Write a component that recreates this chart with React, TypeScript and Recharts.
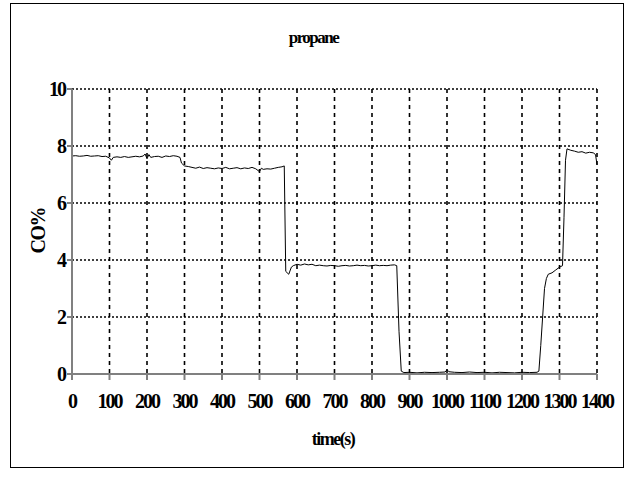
import { LineChart, Line, XAxis, YAxis, CartesianGrid } from 'recharts';

// sampled CO% readings for the propane run
const timeSec = [
  0, 10, 20, 30, 40, 50, 60, 70, 80, 90, 100, 105, 110, 120, 130, 140, 150, 160, 170, 180,
  190, 195, 200, 205, 210, 220, 230, 240, 250, 260, 270, 280, 288, 292, 300, 310, 320, 330, 340, 350,
  360, 370, 380, 390, 400, 410, 420, 430, 440, 450, 460, 470, 480, 490, 500, 505, 510, 520, 530, 540,
  550, 560, 566, 570, 578, 585, 590, 600, 610, 620, 630, 640, 650, 660, 670, 680, 690, 700, 710, 720,
  730, 740, 750, 760, 770, 780, 790, 800, 810, 820, 830, 840, 850, 860, 866, 872, 878, 885, 900, 920,
  940, 960, 980, 995, 1000, 1005, 1020, 1040, 1060, 1080, 1100, 1120, 1140, 1160, 1180, 1200, 1220, 1240, 1245, 1250,
  1255, 1260, 1265, 1270, 1280, 1290, 1300, 1308, 1312, 1316, 1320, 1330, 1340, 1350, 1360, 1370, 1380, 1390, 1396, 1400,
];

const coPct = [
  7.65, 7.66, 7.64, 7.65, 7.67, 7.64, 7.65, 7.66, 7.63, 7.64, 7.58, 7.5, 7.6, 7.62, 7.6, 7.63, 7.6, 7.62, 7.64, 7.62,
  7.65, 7.72, 7.55, 7.7, 7.6, 7.63, 7.64, 7.6, 7.65, 7.63, 7.66, 7.64, 7.6, 7.4, 7.3, 7.28, 7.25, 7.22, 7.26, 7.21,
  7.24, 7.22, 7.2, 7.23, 7.21, 7.25, 7.2, 7.22, 7.24, 7.2, 7.23, 7.21, 7.25, 7.2, 7.1, 7.22, 7.18, 7.2, 7.19, 7.22,
  7.25, 7.27, 7.3, 3.6, 3.5, 3.75, 3.8, 3.85, 3.82, 3.86, 3.83, 3.85, 3.8, 3.82, 3.8, 3.79, 3.81, 3.8, 3.78, 3.8,
  3.81, 3.79, 3.8, 3.82, 3.8, 3.81, 3.79, 3.8, 3.82, 3.8, 3.81, 3.8, 3.82, 3.83, 3.8, 1.5, 0.1, 0.05, 0.06, 0.04,
  0.06, 0.05, 0.06, 0.07, 0.15, 0.08, 0.06, 0.05, 0.07, 0.05, 0.06, 0.04, 0.06, 0.05, 0.04, 0.06, 0.05, 0.06, 0.1, 1.0,
  2.0, 3.0, 3.35, 3.5, 3.55, 3.65, 3.75, 3.8, 5.5, 7.5, 7.9, 7.85, 7.82, 7.78, 7.8, 7.75, 7.78, 7.76, 7.7, 7.35,
];

const xTicks = [0, 100, 200, 300, 400, 500, 600, 700, 800, 900, 1000, 1100, 1200, 1300, 1400];
const yTicks = [0, 2, 4, 6, 8, 10];

const data = timeSec.map((t, i) => ({ t, co: coPct[i] }));

const tickStyle = {
  fontFamily: '"Liberation Serif", serif',
  fontWeight: 'bold' as const,
  fontSize: 20,
  letterSpacing: -2,
  fill: '#000',
};

const labelStyle: React.CSSProperties = {
  position: 'absolute',
  fontFamily: '"Liberation Serif", serif',
  fontWeight: 'bold',
  color: '#000',
  whiteSpace: 'nowrap',
  letterSpacing: -1.5,
};

export default function App() {
  return (
    <div style={{ position: 'absolute', left: 0, top: 0, width: 627, height: 477, background: '#fff' }}>
      <div
        style={{
          position: 'absolute',
          left: 10,
          top: 3,
          width: 612,
          height: 463,
          border: '1px solid #000',
        }}
      />
      <LineChart
        width={627}
        height={477}
        data={data}
        margin={{ top: 89, right: 30, left: 32, bottom: 73 }}
        style={{ position: 'absolute', left: 0, top: 0 }}
      >
        {/* horizontal lines are fine dots, vertical ones longer dashes */}
        <CartesianGrid stroke="#000" strokeWidth={1.6} strokeDasharray="2 2" vertical={false} />
        <CartesianGrid stroke="#000" strokeWidth={1.6} strokeDasharray="4 4" horizontal={false} />
        <XAxis
          dataKey="t"
          type="number"
          domain={[0, 1400]}
          ticks={xTicks}
          interval={0}
          height={30}
          stroke="#808080"
          strokeWidth={2}
          tickSize={6}
          tick={tickStyle}
          tickMargin={14}
        />
        <YAxis
          type="number"
          domain={[0, 10]}
          ticks={yTicks}
          width={40}
          stroke="#808080"
          strokeWidth={2}
          tickSize={5}
          tick={tickStyle}
          tickMargin={2}
        />
        <Line
          type="linear"
          dataKey="co"
          stroke="#000"
          strokeWidth={1}
          dot={false}
          isAnimationActive={false}
        />
      </LineChart>
      <div style={{ ...labelStyle, left: 0, width: 627, top: 28, textAlign: 'center', fontSize: 17 }}>propane</div>
      <div style={{ ...labelStyle, left: 0, width: 666, top: 429, textAlign: 'center', fontSize: 18 }}>time(s)</div>
      <div
        style={{
          ...labelStyle,
          left: 16,
          top: 220,
          width: 44,
          textAlign: 'center',
          fontSize: 20,
          transform: 'rotate(-90deg)',
        }}
      >
        CO%
      </div>
    </div>
  );
}
